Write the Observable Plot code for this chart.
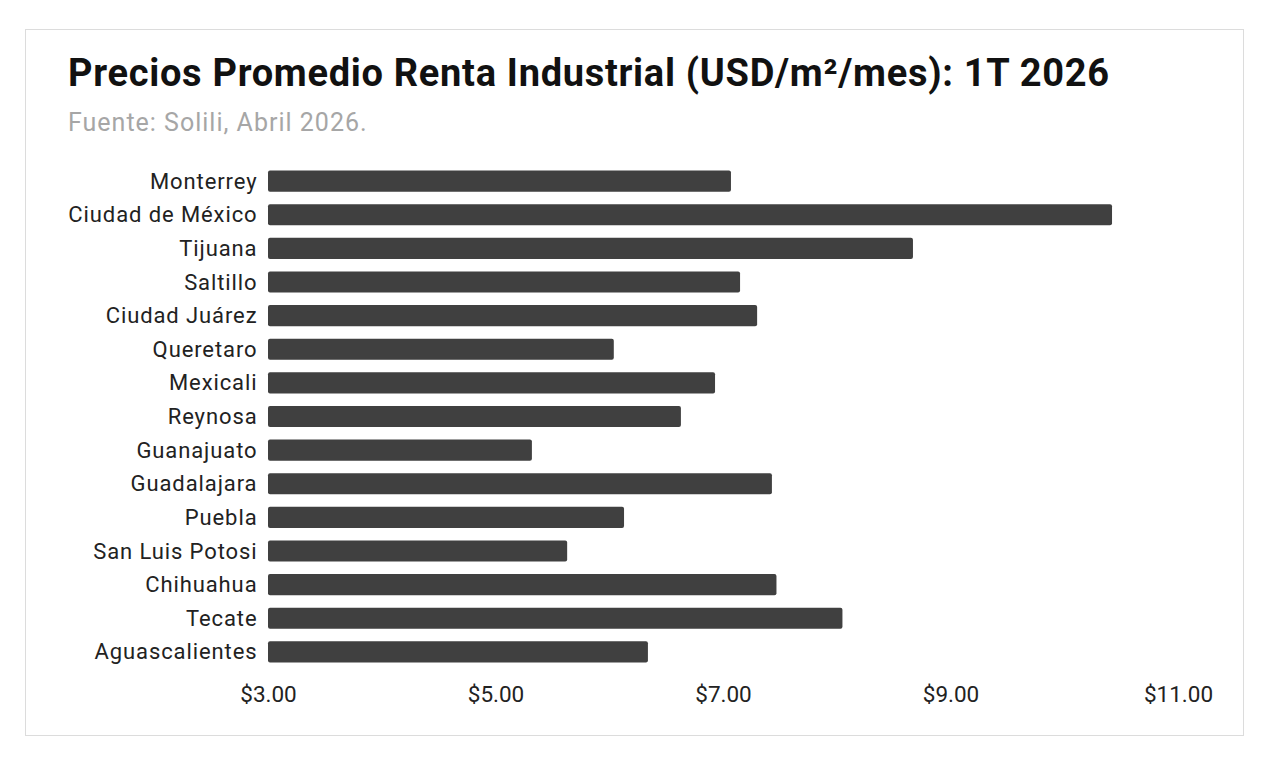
<!DOCTYPE html>
<html>
<head>
<meta charset="utf-8">
<script src="https://cdn.jsdelivr.net/npm/d3@7"></script>
<script src="https://cdn.jsdelivr.net/npm/@observablehq/plot@0.6"></script>
<style>
  html, body { margin: 0; padding: 0; background: #fff; }
  body { width: 1274px; height: 768px; position: relative; overflow: hidden; font-family: Roboto, "Noto Sans", sans-serif; }
  #frame { position: absolute; left: 25px; top: 29px; width: 1217px; height: 705px; border: 1px solid #dcdcdc; }
  #title { position: absolute; left: 68px; top: 51px; margin: 0; font-size: 38px; letter-spacing: 0.7px; font-weight: 700; color: #111; white-space: nowrap; line-height: normal; }
  #subtitle { position: absolute; left: 68px; top: 108px; margin: 0; font-size: 25px; letter-spacing: 1px; color: #a6a6a6; white-space: nowrap; line-height: normal; }
  #chart { position: absolute; left: 0; top: 150px; }
  #chart g[aria-label="y-axis tick label"] text { letter-spacing: 0.9px; }
</style>
</head>
<body>
<div id="frame"></div>
<h1 id="title">Precios Promedio Renta Industrial (USD/m²/mes): 1T 2026</h1>
<p id="subtitle">Fuente: Solili, Abril 2026.</p>
<div id="chart"></div>
<script>
const cities = ["Monterrey", "Ciudad de México", "Tijuana", "Saltillo", "Ciudad Juárez", "Queretaro", "Mexicali", "Reynosa", "Guanajuato", "Guadalajara", "Puebla", "San Luis Potosi", "Chihuahua", "Tecate", "Aguascalientes"];
const prices = [7.07, 10.42, 8.67, 7.15, 7.30, 6.04, 6.93, 6.63, 5.32, 7.43, 6.13, 5.63, 7.47, 8.05, 6.34];
const xTicks = [3, 5, 7, 9, 11];

const data = cities.map((c, i) => ({city: c, price: prices[i]}));

const chart = Plot.plot({
  width: 1274,
  height: 580,
  marginLeft: 268,
  marginRight: 96,
  marginTop: 8,
  marginBottom: 55,
  style: {fontFamily: "Roboto, sans-serif", fontSize: "22px", color: "#222", background: "transparent"},
  x: {domain: [3, 11], ticks: xTicks, tickFormat: d => "$" + d.toFixed(2), label: null},
  y: {domain: cities, padding: 0.375, round: false, label: null},
  marks: [
    Plot.barX(data, {x1: 3, x2: "price", y: "city", fill: "#404040", rx: 2}),
    Plot.axisX({ticks: xTicks, tickFormat: d => "$" + d.toFixed(2), tickSize: 0, tickPadding: 11, fontSize: 22.5, label: null}),
    Plot.axisY({tickSize: 0, tickPadding: 11, fontSize: 22, label: null})
  ]
});
document.getElementById("chart").appendChild(chart);
</script>
</body>
</html>
